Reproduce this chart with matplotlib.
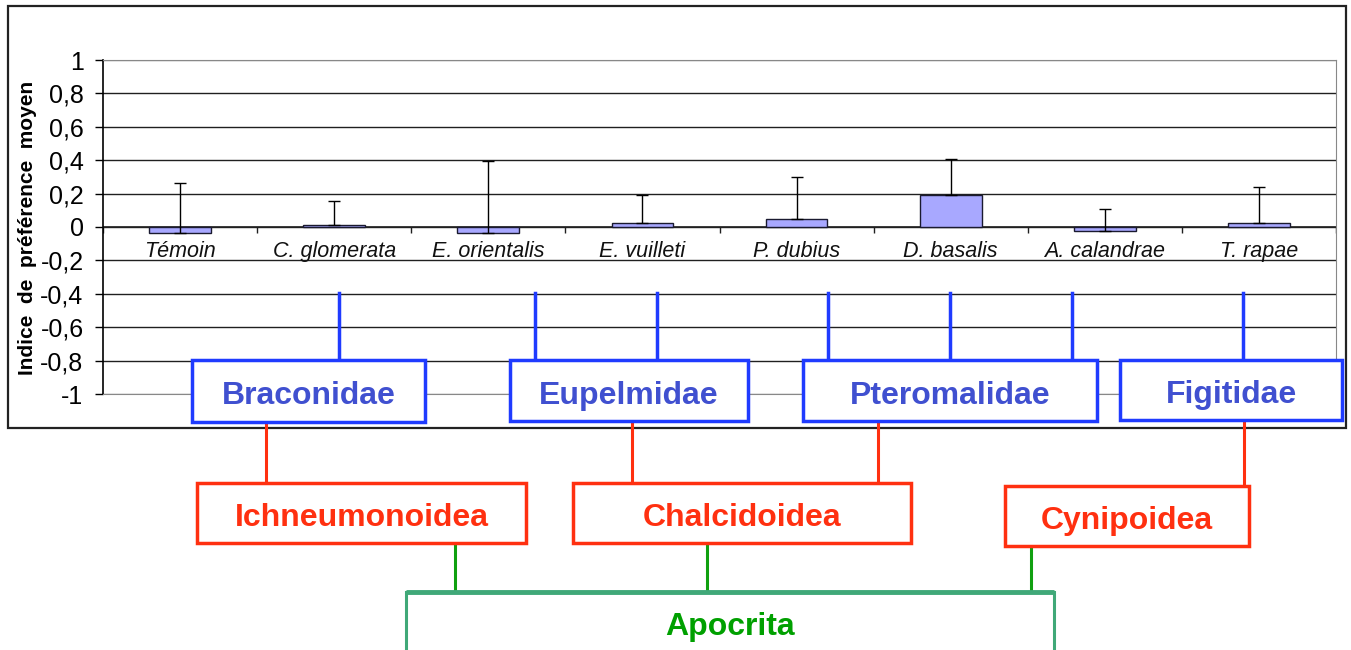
import numpy as np
import matplotlib.pyplot as plt
from matplotlib.patches import Rectangle

plt.rcParams['font.family'] = ['Liberation Sans', 'DejaVu Sans']

# data
species = ['Témoin', 'C. glomerata', 'E. orientalis', 'E. vuilleti',
           'P. dubius', 'D. basalis', 'A. calandrae', 'T. rapae']
mean_index = [-0.035, 0.01, -0.035, 0.025, 0.05, 0.19, -0.025, 0.025]
err_up = [0.30, 0.145, 0.43, 0.165, 0.25, 0.215, 0.135, 0.215]
y_ticks = [1, 0.8, 0.6, 0.4, 0.2, 0, -0.2, -0.4, -0.6, -0.8, -1]

families = ['Braconidae', 'Eupelmidae', 'Pteromalidae', 'Figitidae']
superfamilies = ['Ichneumonoidea', 'Chalcidoidea', 'Cynipoidea']
suborder = 'Apocrita'

# diagram layout, in figure pixels (x0, y0, x1, y1) with y measured from the top
family_boxes = [(192, 360, 425, 422), (510, 360, 748, 421),
                (803, 360, 1097, 421), (1120, 360, 1342, 420)]
family_links = [[339], [535, 657], [828, 950, 1072], [1243]]
super_boxes = [(197, 483, 526, 543), (573, 483, 911, 543), (1005, 486, 1249, 546)]
super_links = [[266], [632, 878], [1244]]
apocrita_box = (406, 592, 1054, 660)
apocrita_links = [455, 707, 1031]

BLUE_EDGE = '#1F3BFF'
BLUE_TEXT = '#4050D0'
RED = '#FF3010'
GREEN_EDGE = '#40A878'
GREEN_TEXT = '#00A000'

W, H = 1351, 650
fig = plt.figure(figsize=(W / 100, H / 100), dpi=100)

ax = fig.add_axes([103 / W, 1 - 394 / H, (1336 - 103) / W, (394 - 60) / H])
x = np.arange(len(species))
ax.bar(x, mean_index, width=0.4, color='#A8A8FF', edgecolor='#1A1A30',
       linewidth=1.0, zorder=3)
ax.errorbar(x, mean_index, yerr=[np.zeros(len(x)), err_up], fmt='none',
            ecolor='black', elinewidth=1.0, capsize=4, capthick=1.0, zorder=4)

ax.set_xlim(-0.5, len(species) - 0.5)
ax.set_ylim(-1, 1)
ax.set_yticks(y_ticks)
ax.set_yticklabels([f'{t:g}'.replace('.', ',') for t in y_ticks], fontsize=18)
ax.set_xticks([])
ax.tick_params(axis='y', direction='out', length=6, width=1, pad=8)
for t in y_ticks:
    ax.axhline(t, color='#888888' if abs(t) == 1 else '#202020', linewidth=1.0, zorder=1)
ax.axhline(0, color='#202020', linewidth=1.2, zorder=2)
bounds = np.arange(len(species) + 1) - 0.5
ax.vlines(bounds, -0.035, 0, color='#202020', linewidth=1.0, zorder=2)
for spine in ('top', 'right', 'bottom'):
    ax.spines[spine].set_color('#888888')
ax.spines['left'].set_color('black')
ax.spines['left'].set_linewidth(1.2)
for xi, name in zip(x, species):
    ax.text(xi, -0.145, name, ha='center', va='center', fontsize=15.5,
            style='italic', color='#111111')

fig.text(28 / W, 1 - 228 / H, 'Indice  de  préférence  moyen', rotation=90,
         ha='center', va='center', fontsize=15, fontweight='bold')

# overlay for the frame and the taxonomy diagram, in pixel units
ov = fig.add_axes([0, 0, 1, 1], zorder=5)
ov.set_xlim(0, W)
ov.set_ylim(H, 0)
ov.axis('off')
ov.patch.set_alpha(0)
ov.add_patch(Rectangle((8, 6), 1338, 422, fill=False, edgecolor='#222222', linewidth=1.6))


def draw_box(box, label, edge, text_color, lw, top_lw=None):
    x0, y0, x1, y1 = box
    ov.add_patch(Rectangle((x0, y0), x1 - x0, y1 - y0, facecolor='white',
                           edgecolor=edge, linewidth=lw, zorder=3))
    if top_lw:
        ov.plot([x0, x1], [y0, y0], color=edge, linewidth=top_lw, zorder=4,
                solid_capstyle='butt')
    yc = (y0 + y1) / 2 + 2 if y1 < H else y0 + 31
    ov.text((x0 + x1) / 2, yc, label, ha='center', va='center_baseline', fontsize=23,
            fontweight='bold', color=text_color, zorder=5)


for box, name, links in zip(family_boxes, families, family_links):
    for lx in links:
        ov.plot([lx, lx], [293, box[1]], color=BLUE_EDGE, linewidth=2.5, zorder=2)
    draw_box(box, name, BLUE_EDGE, BLUE_TEXT, 2.5)

for box, name, links in zip(super_boxes, superfamilies, super_links):
    for lx in links:
        ov.plot([lx, lx], [421, box[1]], color=RED, linewidth=2.2, zorder=2)
    draw_box(box, name, RED, RED, 2.5)

for lx in apocrita_links:
    ov.plot([lx, lx], [544, apocrita_box[1]], color='#10A010', linewidth=2.2, zorder=2)
draw_box(apocrita_box, suborder, GREEN_EDGE, GREEN_TEXT, 2.2, top_lw=3.5)

fig.savefig('out.png', dpi=100)
